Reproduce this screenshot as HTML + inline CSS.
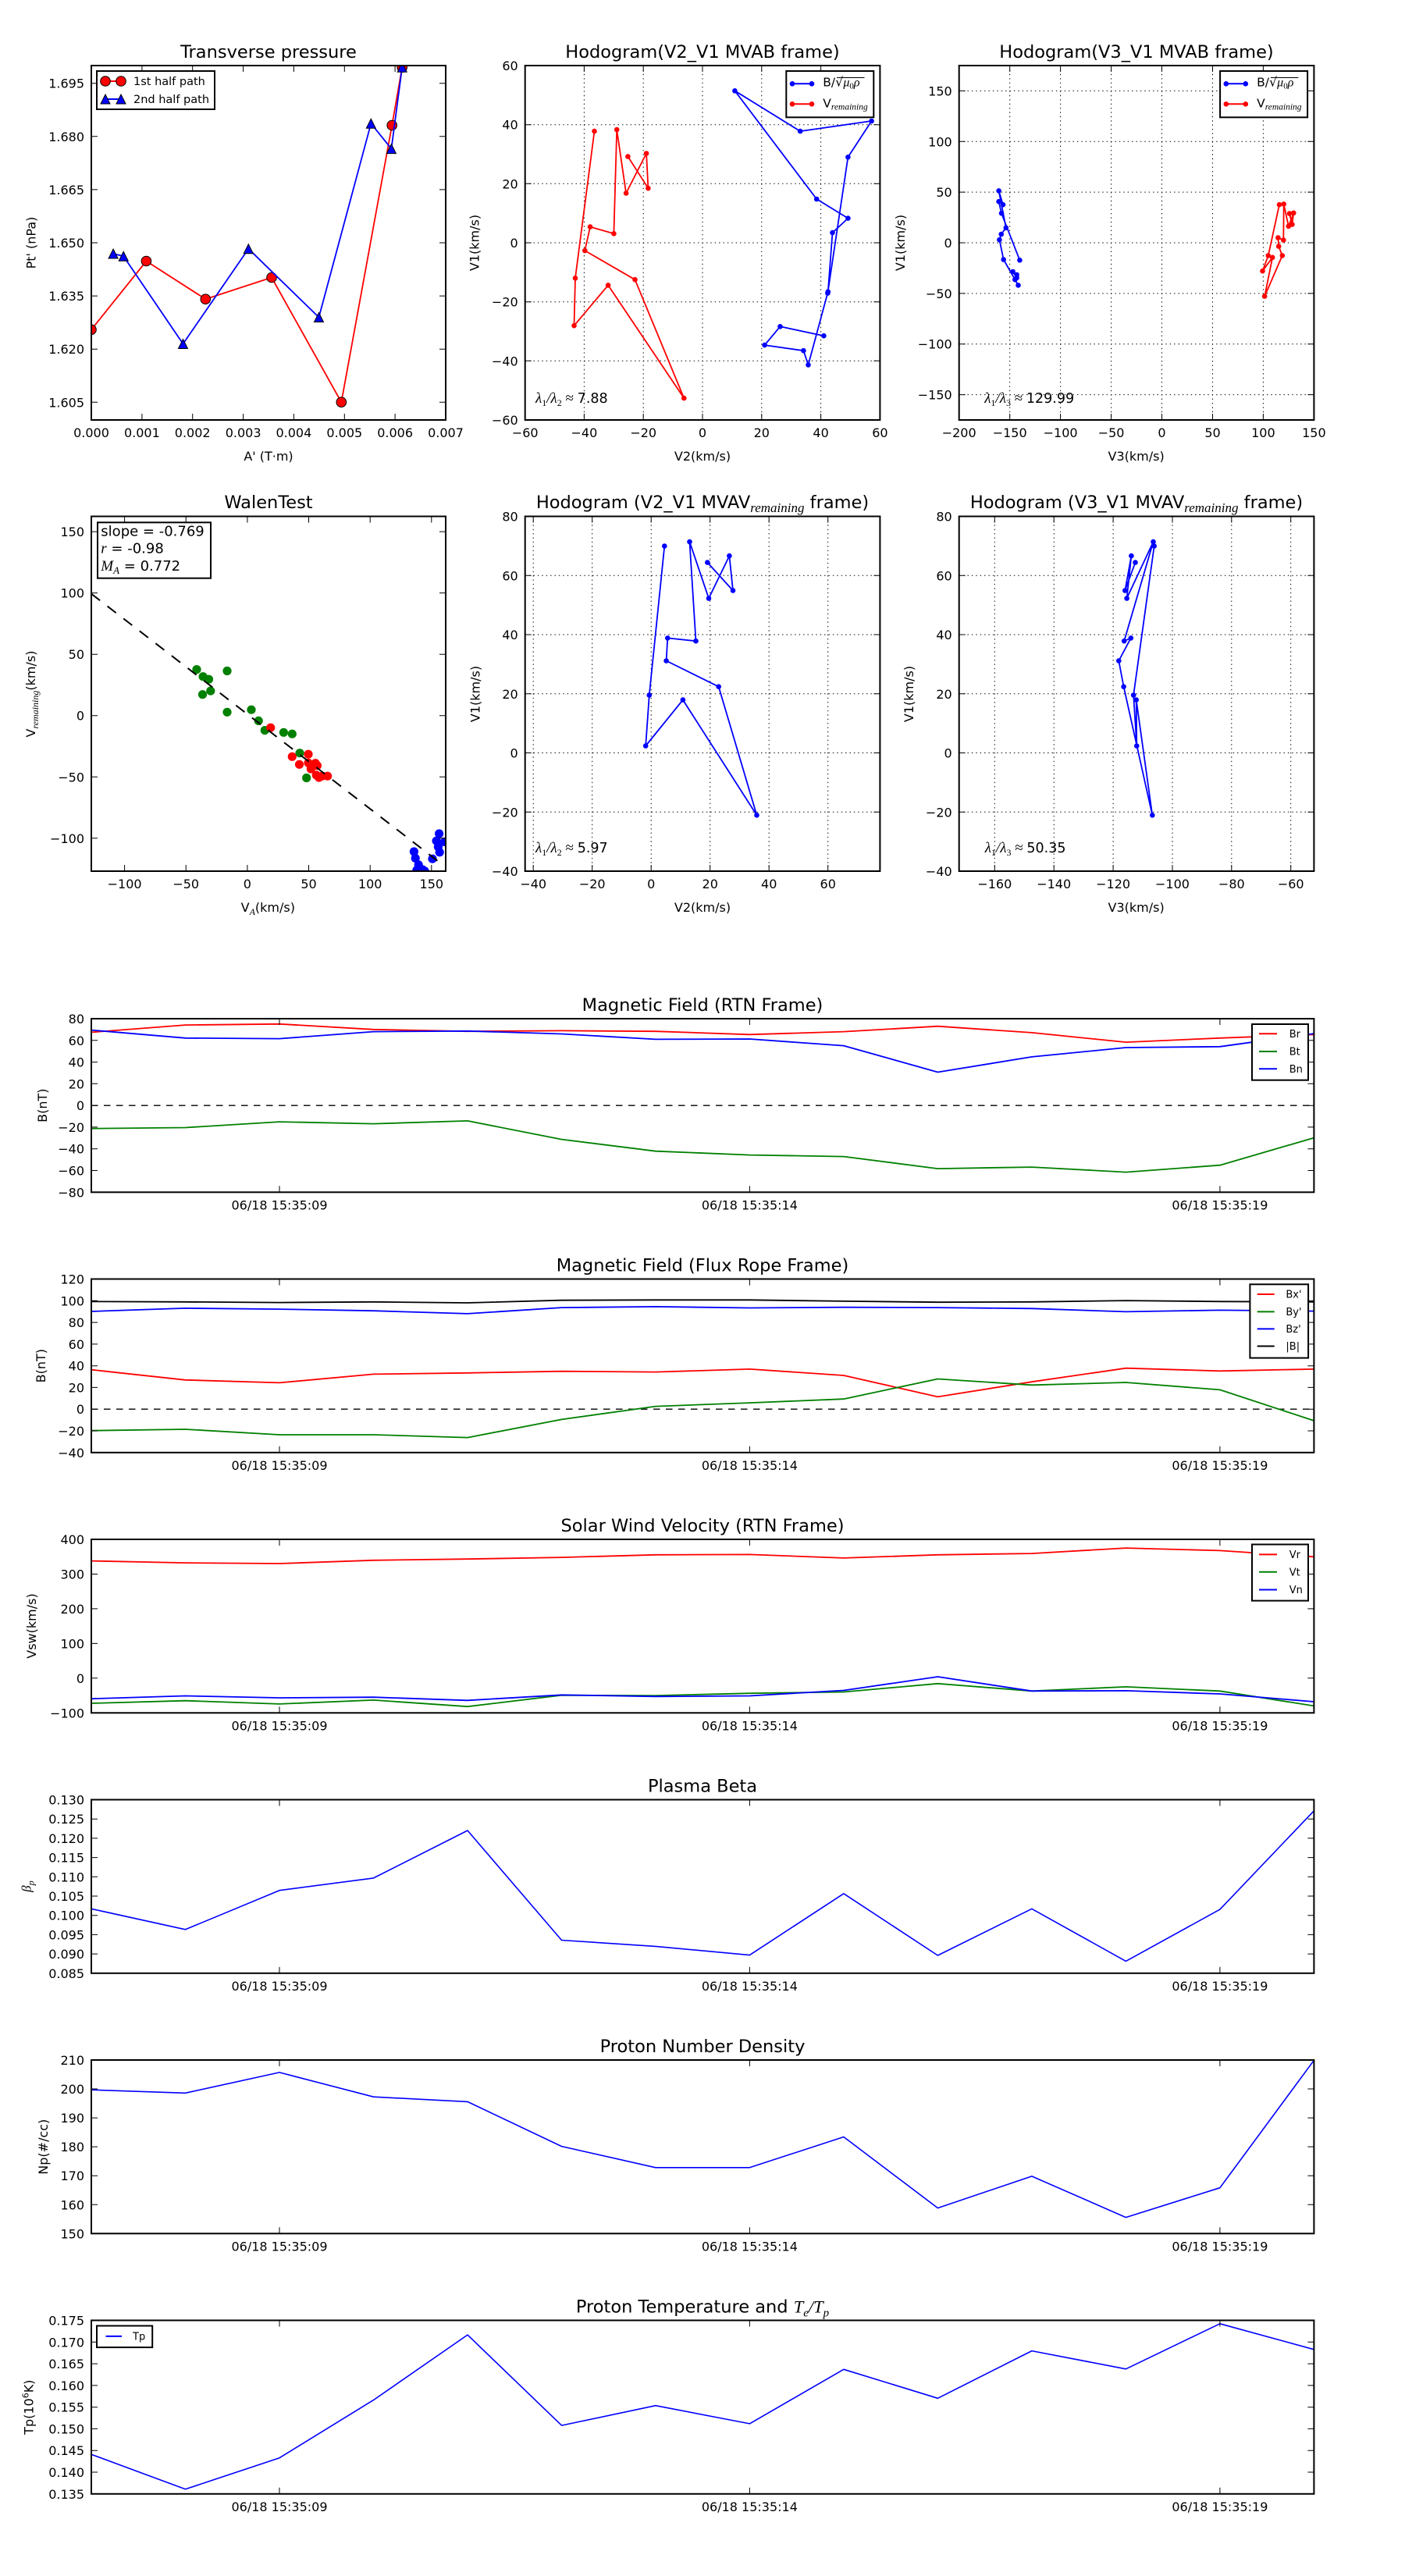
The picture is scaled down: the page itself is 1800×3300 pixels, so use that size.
<!DOCTYPE html>
<html><head><meta charset="utf-8"><style>
html,body{margin:0;padding:0;background:#fff}
svg{display:block}
text{font-family:"DejaVu Sans","Liberation Sans",sans-serif;fill:#000}
.tl{font-size:16px}
.ti{font-size:22.5px}
.lg{font-size:13px}
.m{font-family:"Liberation Serif","DejaVu Serif",serif;font-style:italic}
.sp{fill:none;stroke:#000;stroke-width:2}
.tk{fill:none;stroke:#000;stroke-width:1}
.gr{fill:none;stroke:#000;stroke-width:1;stroke-dasharray:1.4 4}
.ln{fill:none;stroke-width:1.8;stroke-linejoin:round}
.ln2{fill:none;stroke-width:1.6;stroke-linejoin:round}
</style></head><body>
<svg width="1800" height="3300" viewBox="0 0 1800 3300" xmlns="http://www.w3.org/2000/svg">
<defs>
<clipPath id="c1"><rect x="117" y="84" width="454" height="454"/></clipPath>
<clipPath id="c2"><rect x="672.7" y="84" width="454.7" height="454"/></clipPath>
<clipPath id="c3"><rect x="1228.7" y="84" width="454.7" height="454"/></clipPath>
<clipPath id="c4"><rect x="117" y="661.5" width="454" height="454.5"/></clipPath>
<clipPath id="c5"><rect x="672.7" y="661.5" width="454.7" height="454.5"/></clipPath>
<clipPath id="c6"><rect x="1228.7" y="661.5" width="454.7" height="454.5"/></clipPath>
<marker id="mr" markerUnits="userSpaceOnUse" markerWidth="10" markerHeight="10" refX="5" refY="5" overflow="visible"><circle cx="5" cy="5" r="3.3" fill="red"/></marker>
<marker id="mb" markerUnits="userSpaceOnUse" markerWidth="10" markerHeight="10" refX="5" refY="5" overflow="visible"><circle cx="5" cy="5" r="3.3" fill="blue"/></marker>
<marker id="bc" markerUnits="userSpaceOnUse" markerWidth="16" markerHeight="16" refX="8" refY="8" overflow="visible"><circle cx="8" cy="8" r="6.3" fill="red" stroke="#000" stroke-width="1"/></marker>
<marker id="bt" markerUnits="userSpaceOnUse" markerWidth="16" markerHeight="16" refX="8" refY="8" overflow="visible"><polygon points="8,2 2,14 14,14" fill="blue" stroke="#000" stroke-width="1"/></marker>
</defs>
<rect width="1800" height="3300" fill="#fff"/>

<!-- ============ Panel 1: Transverse pressure ============ -->
<text class="ti" x="344" y="74" text-anchor="middle">Transverse pressure</text>
<g clip-path="url(#c1)">
<polyline class="ln" stroke="red" stroke-width="2" points="117,422.3 187.4,334.5 263.3,383.2 348,355.5 437.3,515.2 502.2,160.5 515.2,86.2" marker-start="url(#bc)" marker-mid="url(#bc)" marker-end="url(#bc)"/>
<polyline class="ln" stroke="blue" stroke-width="2" points="145.1,325 158.2,328.2 234.5,440.5 318.3,318.7 408.5,406.5 475.3,158.2 501.4,190.6 515.2,86.2" marker-start="url(#bt)" marker-mid="url(#bt)" marker-end="url(#bt)"/>
</g>
<rect class="sp" x="117" y="84" width="454" height="454"/>
<path class="tk" d="M181.9 538v-8M246.7 538v-8M311.6 538v-8M376.4 538v-8M441.3 538v-8M506.1 538v-8M181.9 84v8M246.7 84v8M311.6 84v8M376.4 84v8M441.3 84v8M506.1 84v8M117 106.7h8M117 174.8h8M117 242.9h8M117 311h8M117 379.1h8M117 447.2h8M117 515.3h8M571 106.7h-8M571 174.8h-8M571 242.9h-8M571 311h-8M571 379.1h-8M571 447.2h-8M571 515.3h-8"/>
<g class="tl" text-anchor="middle">
<text x="117" y="560">0.000</text><text x="181.9" y="560">0.001</text><text x="246.7" y="560">0.002</text><text x="311.6" y="560">0.003</text><text x="376.4" y="560">0.004</text><text x="441.3" y="560">0.005</text><text x="506.1" y="560">0.006</text><text x="571" y="560">0.007</text>
</g>
<g class="tl" text-anchor="end">
<text x="108" y="112.7">1.695</text><text x="108" y="180.8">1.680</text><text x="108" y="248.9">1.665</text><text x="108" y="317">1.650</text><text x="108" y="385.1">1.635</text><text x="108" y="453.2">1.620</text><text x="108" y="521.3">1.605</text>
</g>
<text class="tl" x="344" y="590" text-anchor="middle">A' (T·m)</text>
<text class="tl" transform="translate(45.3,311) rotate(-90)" text-anchor="middle">Pt' (nPa)</text>
<rect x="124" y="91" width="151" height="49" fill="#fff" stroke="#000" stroke-width="2"/>
<polyline fill="none" stroke="red" stroke-width="2" points="135,104 155,104" marker-start="url(#bc)" marker-end="url(#bc)"/>
<polyline fill="none" stroke="blue" stroke-width="2" points="135,127 155,127" marker-start="url(#bt)" marker-end="url(#bt)"/>
<text x="171" y="109" font-size="14.5">1st half path</text>
<text x="171" y="132" font-size="14.5">2nd half path</text>

<!-- ============ Panel 2: Hodogram V2_V1 MVAB ============ -->
<text class="ti" x="900" y="74" text-anchor="middle">Hodogram(V2_V1 MVAB frame)</text>
<path class="gr" d="M748.4 84V538M824.2 84V538M900 84V538M975.8 84V538M1051.6 84V538M672.7 159.7H1127.4M672.7 235.3H1127.4M672.7 311H1127.4M672.7 386.7H1127.4M672.7 462.3H1127.4"/>
<g clip-path="url(#c2)">
<polyline class="ln" stroke="red" points="761.5,168.1 737,356.3 735.5,417.2 779.1,365.4 876.3,510.1 813.5,358.2 749.3,321.1 756.1,290.6 786.4,299.3 790.2,166.1 802.1,247.5 828.1,196.5 830.4,241.2 804.4,200.5" marker-start="url(#mr)" marker-mid="url(#mr)" marker-end="url(#mr)"/>
<polyline class="ln" stroke="blue" points="1055.4,430.2 999.5,418.3 979.6,442.1 1029.4,449.2 1035.5,467.4 1060.8,373.7 1066.5,298.1 1086.4,279.6 1046.2,255 941.4,116.3 1025.2,168.1 1116.6,155 1086.4,201.3 1060.4,375.6" marker-start="url(#mb)" marker-mid="url(#mb)" marker-end="url(#mb)"/>
</g>
<rect class="sp" x="672.7" y="84" width="454.7" height="454"/>
<path class="tk" d="M748.4 538v-8M824.2 538v-8M900 538v-8M975.8 538v-8M1051.6 538v-8M748.4 84v8M824.2 84v8M900 84v8M975.8 84v8M1051.6 84v8M672.7 159.7h8M672.7 235.3h8M672.7 311h8M672.7 386.7h8M672.7 462.3h8M1127.4 159.7h-8M1127.4 235.3h-8M1127.4 311h-8M1127.4 386.7h-8M1127.4 462.3h-8"/>
<g class="tl" text-anchor="middle">
<text x="672.7" y="560">−60</text><text x="748.4" y="560">−40</text><text x="824.2" y="560">−20</text><text x="900" y="560">0</text><text x="975.8" y="560">20</text><text x="1051.6" y="560">40</text><text x="1127.4" y="560">60</text>
</g>
<g class="tl" text-anchor="end">
<text x="663.7" y="90">60</text><text x="663.7" y="165.7">40</text><text x="663.7" y="241.3">20</text><text x="663.7" y="317">0</text><text x="663.7" y="392.7">−20</text><text x="663.7" y="468.3">−40</text><text x="663.7" y="544">−60</text>
</g>
<text class="tl" x="900" y="590" text-anchor="middle">V2(km/s)</text>
<text class="tl" transform="translate(613.5,311) rotate(-90)" text-anchor="middle">V1(km/s)</text>
<text x="686" y="516" font-size="17.5"><tspan class="m" font-size="19">λ</tspan><tspan font-family="Liberation Serif" font-size="12" dy="4">1</tspan><tspan class="m" font-size="19" dy="-4">/λ</tspan><tspan font-family="Liberation Serif" font-size="12" dy="4">2</tspan><tspan font-family="Liberation Serif" font-size="19" dy="-4"> ≈ </tspan><tspan>7.88</tspan></text>
<rect x="1007.3" y="91" width="112" height="59.3" fill="#fff" stroke="#000" stroke-width="2"/>
<polyline fill="none" stroke="blue" stroke-width="2" points="1015,107.3 1040,107.3" marker-start="url(#mb)" marker-end="url(#mb)"/>
<polyline fill="none" stroke="red" stroke-width="2" points="1015,133.3 1040,133.3" marker-start="url(#mr)" marker-end="url(#mr)"/>
<text x="1054.3" y="110.7" font-size="15.5">B/<tspan font-family="DejaVu Serif" font-size="16">√</tspan><tspan class="m" font-size="16">μ</tspan><tspan font-family="Liberation Serif" font-size="11" dy="3">0</tspan><tspan class="m" font-size="16" dy="-3">ρ</tspan></text>
<path d="M1072 99.5H1107.5" stroke="#000" stroke-width="1"/>
<text x="1054.3" y="137.3" font-size="15.5">V<tspan class="m" font-size="11.5" dy="3">remaining</tspan></text>

<!-- ============ Panel 3: Hodogram V3_V1 MVAB ============ -->
<text class="ti" x="1456" y="74" text-anchor="middle">Hodogram(V3_V1 MVAB frame)</text>
<path class="gr" d="M1293.7 84V538M1358.6 84V538M1423.6 84V538M1488.5 84V538M1553.5 84V538M1618.4 84V538M1228.7 116.4H1683.4M1228.7 181.3H1683.4M1228.7 246.1H1683.4M1228.7 311H1683.4M1228.7 375.9H1683.4M1228.7 440.7H1683.4M1228.7 505.6H1683.4"/>
<g clip-path="url(#c3)">
<polyline class="ln" stroke="blue" points="1302.6,351.9 1297.6,348 1302.6,355.9 1300.3,358.2 1304.5,365.4 1285.7,332.5 1280.4,307.2 1282.7,300.1 1288.8,291.8 1279.6,244.4 1285,262.2 1279.6,258.2 1283,273.2 1306.4,333.3" marker-start="url(#mb)" marker-mid="url(#mb)" marker-end="url(#mb)"/>
<polyline class="ln" stroke="red" points="1639,262.2 1624.8,327.4 1617.5,347.2 1630.2,329.8 1620.2,379.6 1642.8,327.4 1638.2,315.5 1637.4,304.5 1644.3,307.6 1644.7,261.4 1650.8,289.8 1657.3,272.8 1655.4,287.5 1652,273.6" marker-start="url(#mr)" marker-mid="url(#mr)" marker-end="url(#mr)"/>
</g>
<rect class="sp" x="1228.7" y="84" width="454.7" height="454"/>
<path class="tk" d="M1293.7 538v-8M1358.6 538v-8M1423.6 538v-8M1488.5 538v-8M1553.5 538v-8M1618.4 538v-8M1293.7 84v8M1358.6 84v8M1423.6 84v8M1488.5 84v8M1553.5 84v8M1618.4 84v8M1228.7 116.4h8M1228.7 181.3h8M1228.7 246.1h8M1228.7 311h8M1228.7 375.9h8M1228.7 440.7h8M1228.7 505.6h8M1683.4 116.4h-8M1683.4 181.3h-8M1683.4 246.1h-8M1683.4 311h-8M1683.4 375.9h-8M1683.4 440.7h-8M1683.4 505.6h-8"/>
<g class="tl" text-anchor="middle">
<text x="1228.7" y="560">−200</text><text x="1293.7" y="560">−150</text><text x="1358.6" y="560">−100</text><text x="1423.6" y="560">−50</text><text x="1488.5" y="560">0</text><text x="1553.5" y="560">50</text><text x="1618.4" y="560">100</text><text x="1683.4" y="560">150</text>
</g>
<g class="tl" text-anchor="end">
<text x="1219.7" y="122.4">150</text><text x="1219.7" y="187.3">100</text><text x="1219.7" y="252.1">50</text><text x="1219.7" y="317">0</text><text x="1219.7" y="381.9">−50</text><text x="1219.7" y="446.7">−100</text><text x="1219.7" y="511.6">−150</text>
</g>
<text class="tl" x="1455.6" y="590" text-anchor="middle">V3(km/s)</text>
<text class="tl" transform="translate(1159,311) rotate(-90)" text-anchor="middle">V1(km/s)</text>
<text x="1261.2" y="516" font-size="17.5"><tspan class="m" font-size="19">λ</tspan><tspan font-family="Liberation Serif" font-size="12" dy="4">1</tspan><tspan class="m" font-size="19" dy="-4">/λ</tspan><tspan font-family="Liberation Serif" font-size="12" dy="4">3</tspan><tspan font-family="Liberation Serif" font-size="19" dy="-4"> ≈ </tspan><tspan>129.99</tspan></text>
<rect x="1563.1" y="91" width="112" height="59.3" fill="#fff" stroke="#000" stroke-width="2"/>
<polyline fill="none" stroke="blue" stroke-width="2" points="1570.8,107.3 1595.8,107.3" marker-start="url(#mb)" marker-end="url(#mb)"/>
<polyline fill="none" stroke="red" stroke-width="2" points="1570.8,133.3 1595.8,133.3" marker-start="url(#mr)" marker-end="url(#mr)"/>
<text x="1610.1" y="110.7" font-size="15.5">B/<tspan font-family="DejaVu Serif" font-size="16">√</tspan><tspan class="m" font-size="16">μ</tspan><tspan font-family="Liberation Serif" font-size="11" dy="3">0</tspan><tspan class="m" font-size="16" dy="-3">ρ</tspan></text>
<path d="M1627.8 99.5H1663.3" stroke="#000" stroke-width="1"/>
<text x="1610.1" y="137.3" font-size="15.5">V<tspan class="m" font-size="11.5" dy="3">remaining</tspan></text>

<!-- ============ Row 2 Panel 1: WalenTest ============ -->
<text class="ti" x="344" y="651" text-anchor="middle">WalenTest</text>
<g clip-path="url(#c4)">
<g fill="green">
<circle cx="252" cy="857.6" r="5.6"/><circle cx="260.1" cy="866.7" r="5.6"/><circle cx="267.5" cy="870.2" r="5.6"/><circle cx="259.5" cy="889.7" r="5.6"/><circle cx="269.8" cy="885.1" r="5.6"/><circle cx="291" cy="859.5" r="5.6"/><circle cx="291" cy="912.3" r="5.6"/><circle cx="322" cy="909.2" r="5.6"/><circle cx="331.2" cy="923.4" r="5.6"/><circle cx="339.3" cy="935.6" r="5.6"/><circle cx="363.4" cy="938.3" r="5.6"/><circle cx="374.3" cy="940.2" r="5.6"/><circle cx="384" cy="964.7" r="5.6"/><circle cx="392.7" cy="996.5" r="5.6"/>
</g>
<g fill="red">
<circle cx="346.7" cy="932.2" r="5.6"/><circle cx="374.3" cy="969.3" r="5.6"/><circle cx="383.5" cy="979.3" r="5.6"/><circle cx="395" cy="966.2" r="5.6"/><circle cx="395" cy="977.3" r="5.6"/><circle cx="398.4" cy="985" r="5.6"/><circle cx="404.1" cy="977.7" r="5.6"/><circle cx="406.4" cy="980.8" r="5.6"/><circle cx="405.3" cy="993" r="5.6"/><circle cx="408.7" cy="996.1" r="5.6"/><circle cx="412.7" cy="994.2" r="5.6"/><circle cx="419.6" cy="994.2" r="5.6"/>
</g>
<g fill="blue">
<circle cx="530.4" cy="1091" r="5.6"/><circle cx="532.2" cy="1099.4" r="5.6"/><circle cx="536.2" cy="1107.8" r="5.6"/><circle cx="541.3" cy="1114" r="5.6"/><circle cx="554" cy="1100.2" r="5.6"/><circle cx="559.1" cy="1077.2" r="5.6"/><circle cx="562.6" cy="1068" r="5.6"/><circle cx="561.4" cy="1084.9" r="5.6"/><circle cx="563.2" cy="1091.8" r="5.6"/><circle cx="569.5" cy="1078.4" r="5.6"/><circle cx="533.9" cy="1114.7" r="5.6"/><circle cx="544.2" cy="1115.9" r="5.6"/>
</g>
<line x1="117" y1="760.7" x2="562.6" y2="1104.4" stroke="#000" stroke-width="2" stroke-dasharray="14 12"/>
</g>
<rect class="sp" x="117" y="661.5" width="454" height="454.5"/>
<path class="tk" d="M159.6 1116v-8M238.2 1116v-8M316.9 1116v-8M395.5 1116v-8M474.2 1116v-8M552.8 1116v-8M159.6 661.5v8M238.2 661.5v8M316.9 661.5v8M395.5 661.5v8M474.2 661.5v8M552.8 661.5v8M117 681.1h8M117 759.6h8M117 838.2h8M117 916.7h8M117 995.3h8M117 1073.8h8M571 681.1h-8M571 759.6h-8M571 838.2h-8M571 916.7h-8M571 995.3h-8M571 1073.8h-8"/>
<g class="tl" text-anchor="middle">
<text x="159.6" y="1138">−100</text><text x="238.2" y="1138">−50</text><text x="316.9" y="1138">0</text><text x="395.5" y="1138">50</text><text x="474.2" y="1138">100</text><text x="552.8" y="1138">150</text>
</g>
<g class="tl" text-anchor="end">
<text x="108" y="687.1">150</text><text x="108" y="765.6">100</text><text x="108" y="844.2">50</text><text x="108" y="922.7">0</text><text x="108" y="1001.3">−50</text><text x="108" y="1079.8">−100</text>
</g>
<rect x="125" y="669.3" width="145" height="71.4" fill="#fff" stroke="#000" stroke-width="2"/>
<text x="129.3" y="686.7" font-size="18">slope = -0.769</text>
<text x="129.3" y="708.3" font-size="18"><tspan class="m" font-size="19">r</tspan> = -0.98</text>
<text x="129.3" y="731" font-size="18"><tspan class="m" font-size="19">M</tspan><tspan class="m" font-size="13" dy="4">A</tspan><tspan dy="-4"> = 0.772</tspan></text>
<text class="tl" x="343.3" y="1168" text-anchor="middle">V<tspan class="m" font-size="12" dy="4">A</tspan><tspan dy="-4">(km/s)</tspan></text>
<text class="tl" transform="translate(45,889) rotate(-90)" text-anchor="middle">V<tspan class="m" font-size="12" dy="4">remaining</tspan><tspan dy="-4">(km/s)</tspan></text>

<!-- ============ Row 2 Panel 2 ============ -->
<text class="ti" x="900" y="651" text-anchor="middle">Hodogram (V2_V1 MVAV<tspan class="m" font-size="17" dy="5">remaining</tspan><tspan dy="-5"> frame)</tspan></text>
<path class="gr" d="M683.2 661.5V1116M758.7 661.5V1116M834.2 661.5V1116M909.7 661.5V1116M985.2 661.5V1116M1060.7 661.5V1116M672.7 737.3H1127.4M672.7 813H1127.4M672.7 888.75H1127.4M672.7 964.5H1127.4M672.7 1040.3H1127.4"/>
<g clip-path="url(#c5)">
<polyline class="ln" stroke="blue" points="851.3,699.5 831.8,890.5 827.2,955.5 874.9,896.6 969.5,1044.3 920.7,879.7 853.6,846.5 855.3,817.4 891.5,821.2 883.5,694.1 908,766.5 934.4,712.1 939,756.5 906.3,720.5" marker-start="url(#mb)" marker-mid="url(#mb)" marker-end="url(#mb)"/>
</g>
<rect class="sp" x="672.7" y="661.5" width="454.7" height="454.5"/>
<path class="tk" d="M683.2 1116v-8M758.7 1116v-8M834.2 1116v-8M909.7 1116v-8M985.2 1116v-8M1060.7 1116v-8M683.2 661.5v8M758.7 661.5v8M834.2 661.5v8M909.7 661.5v8M985.2 661.5v8M1060.7 661.5v8M672.7 737.3h8M672.7 813h8M672.7 888.75h8M672.7 964.5h8M672.7 1040.3h8M1127.4 737.3h-8M1127.4 813h-8M1127.4 888.75h-8M1127.4 964.5h-8M1127.4 1040.3h-8"/>
<g class="tl" text-anchor="middle">
<text x="683.2" y="1138">−40</text><text x="758.7" y="1138">−20</text><text x="834.2" y="1138">0</text><text x="909.7" y="1138">20</text><text x="985.2" y="1138">40</text><text x="1060.7" y="1138">60</text>
</g>
<g class="tl" text-anchor="end">
<text x="663.7" y="667.5">80</text><text x="663.7" y="743.3">60</text><text x="663.7" y="819">40</text><text x="663.7" y="894.75">20</text><text x="663.7" y="970.5">0</text><text x="663.7" y="1046.3">−20</text><text x="663.7" y="1122">−40</text>
</g>
<text class="tl" x="900" y="1168" text-anchor="middle">V2(km/s)</text>
<text class="tl" transform="translate(614.3,889) rotate(-90)" text-anchor="middle">V1(km/s)</text>
<text x="686" y="1092" font-size="17.5"><tspan class="m" font-size="19">λ</tspan><tspan font-family="Liberation Serif" font-size="12" dy="4">1</tspan><tspan class="m" font-size="19" dy="-4">/λ</tspan><tspan font-family="Liberation Serif" font-size="12" dy="4">2</tspan><tspan font-family="Liberation Serif" font-size="19" dy="-4"> ≈ </tspan><tspan>5.97</tspan></text>

<!-- ============ Row 2 Panel 3 ============ -->
<text class="ti" x="1456" y="651" text-anchor="middle">Hodogram (V3_V1 MVAV<tspan class="m" font-size="17" dy="5">remaining</tspan><tspan dy="-5"> frame)</tspan></text>
<path class="gr" d="M1274.3 661.5V1116M1350.2 661.5V1116M1426.1 661.5V1116M1502 661.5V1116M1577.8 661.5V1116M1653.7 661.5V1116M1228.7 737.3H1683.4M1228.7 813H1683.4M1228.7 888.75H1683.4M1228.7 964.5H1683.4M1228.7 1040.3H1683.4"/>
<g clip-path="url(#c6)">
<polyline class="ln" stroke="blue" points="1478.7,699.5 1452.2,890.5 1456.3,955.5 1455.7,896.6 1476.3,1044.3 1439.6,879.7 1433.3,846.5 1448.8,817.4 1440.2,821.2 1477.5,694.1 1443.6,766.5 1449.4,712.1 1441.3,756.5 1454.5,720.5" marker-start="url(#mb)" marker-mid="url(#mb)" marker-end="url(#mb)"/>
</g>
<rect class="sp" x="1228.7" y="661.5" width="454.7" height="454.5"/>
<path class="tk" d="M1274.3 1116v-8M1350.2 1116v-8M1426.1 1116v-8M1502 1116v-8M1577.8 1116v-8M1653.7 1116v-8M1274.3 661.5v8M1350.2 661.5v8M1426.1 661.5v8M1502 661.5v8M1577.8 661.5v8M1653.7 661.5v8M1228.7 737.3h8M1228.7 813h8M1228.7 888.75h8M1228.7 964.5h8M1228.7 1040.3h8M1683.4 737.3h-8M1683.4 813h-8M1683.4 888.75h-8M1683.4 964.5h-8M1683.4 1040.3h-8"/>
<g class="tl" text-anchor="middle">
<text x="1274.3" y="1138">−160</text><text x="1350.2" y="1138">−140</text><text x="1426.1" y="1138">−120</text><text x="1502" y="1138">−100</text><text x="1577.8" y="1138">−80</text><text x="1653.7" y="1138">−60</text>
</g>
<g class="tl" text-anchor="end">
<text x="1219.7" y="667.5">80</text><text x="1219.7" y="743.3">60</text><text x="1219.7" y="819">40</text><text x="1219.7" y="894.75">20</text><text x="1219.7" y="970.5">0</text><text x="1219.7" y="1046.3">−20</text><text x="1219.7" y="1122">−40</text>
</g>
<text class="tl" x="1455.6" y="1168" text-anchor="middle">V3(km/s)</text>
<text class="tl" transform="translate(1170,889) rotate(-90)" text-anchor="middle">V1(km/s)</text>
<text x="1261.7" y="1092" font-size="17.5"><tspan class="m" font-size="19">λ</tspan><tspan font-family="Liberation Serif" font-size="12" dy="4">1</tspan><tspan class="m" font-size="19" dy="-4">/λ</tspan><tspan font-family="Liberation Serif" font-size="12" dy="4">3</tspan><tspan font-family="Liberation Serif" font-size="19" dy="-4"> ≈ </tspan><tspan>50.35</tspan></text>

<!-- ============ TS 1: Magnetic Field (RTN) ============ -->
<text class="ti" x="900" y="1295" text-anchor="middle">Magnetic Field (RTN Frame)</text>
<path d="M117 1416.2H1683.4" stroke="#000" stroke-width="1.3" stroke-dasharray="8.5 7.5"/>
<polyline class="ln" stroke="red" points="117,1322.4 237.5,1313.1 358,1311.8 478.5,1318.8 599,1321.2 719.5,1320.4 839.9,1321.2 960.4,1325.3 1080.9,1321.6 1201.4,1314.7 1321.9,1322.9 1442.4,1335.1 1562.9,1329.8 1683.4,1325.3"/>
<polyline class="ln" stroke="green" points="117,1445.7 237.5,1444.5 358,1437.1 478.5,1439.6 599,1435.9 719.5,1459.6 839.9,1474.7 960.4,1479.6 1080.9,1481.6 1201.4,1497.1 1321.9,1495.1 1442.4,1501.6 1562.9,1492.7 1683.4,1457.6"/>
<polyline class="ln" stroke="blue" points="117,1319.6 237.5,1329.8 358,1330.6 478.5,1321.6 599,1320.8 719.5,1324.5 839.9,1331.4 960.4,1331 1080.9,1339.6 1201.4,1373.5 1321.9,1353.9 1442.4,1342 1562.9,1340.8 1683.4,1324.1"/>
<rect class="sp" x="117" y="1305" width="1566.4" height="222.3"/>
<path class="tk" d="M358 1527.3v-8M960.4 1527.3v-8M1562.9 1527.3v-8M358 1305v8M960.4 1305v8M1562.9 1305v8M117 1332.8h8M117 1360.6h8M117 1388.3h8M117 1416.2h8M117 1443.9h8M117 1471.7h8M117 1499.5h8M1683.4 1332.8h-8M1683.4 1360.6h-8M1683.4 1388.3h-8M1683.4 1416.2h-8M1683.4 1443.9h-8M1683.4 1471.7h-8M1683.4 1499.5h-8"/>
<g class="tl" text-anchor="end">
<text x="108" y="1311">80</text><text x="108" y="1338.8">60</text><text x="108" y="1366.6">40</text><text x="108" y="1394.3">20</text><text x="108" y="1422.2">0</text><text x="108" y="1449.9">−20</text><text x="108" y="1477.7">−40</text><text x="108" y="1505.5">−60</text><text x="108" y="1533.3">−80</text>
</g>
<g class="tl" text-anchor="middle">
<text x="358" y="1549.5">06/18 15:35:09</text><text x="960.4" y="1549.5">06/18 15:35:14</text><text x="1562.9" y="1549.5">06/18 15:35:19</text>
</g>
<text class="tl" transform="translate(59.8,1416.2) rotate(-90)" text-anchor="middle">B(nT)</text>
<rect x="1604" y="1312" width="72" height="71.7" fill="#fff" stroke="#000" stroke-width="2"/>
<path d="M1613 1324.3h23" stroke="red" stroke-width="2"/><path d="M1613 1347h23" stroke="green" stroke-width="2"/><path d="M1613 1369.3h23" stroke="blue" stroke-width="2"/>
<text class="lg" x="1651.7" y="1329">Br</text><text class="lg" x="1651.7" y="1351.7">Bt</text><text class="lg" x="1651.7" y="1374">Bn</text>

<!-- ============ TS 2: Magnetic Field (Flux Rope) ============ -->
<text class="ti" x="900" y="1628.5" text-anchor="middle">Magnetic Field (Flux Rope Frame)</text>
<path d="M117 1805.2H1683.4" stroke="#000" stroke-width="1.3" stroke-dasharray="8.5 7.5"/>
<polyline class="ln" stroke="red" points="117,1754.7 237.5,1767.8 358,1771.4 478.5,1760.4 599,1758.8 719.5,1756.7 839.9,1757.6 960.4,1753.9 1080.9,1762 1201.4,1789.4 1321.9,1770.2 1442.4,1752.7 1562.9,1756.3 1683.4,1753.9"/>
<polyline class="ln" stroke="green" points="117,1832.7 237.5,1831 358,1838 478.5,1838 599,1841.6 719.5,1818.4 839.9,1801.6 960.4,1797.1 1080.9,1792.2 1201.4,1766.5 1321.9,1774.3 1442.4,1771 1562.9,1780.4 1683.4,1820"/>
<polyline class="ln" stroke="blue" points="117,1680 237.5,1675.9 358,1677.1 478.5,1679.2 599,1682.9 719.5,1675.1 839.9,1673.9 960.4,1675.5 1080.9,1674.7 1201.4,1675.1 1321.9,1676.3 1442.4,1680.4 1562.9,1678.4 1683.4,1679.6"/>
<polyline class="ln" stroke="#000" points="117,1667.3 237.5,1667.8 358,1668.6 478.5,1667.8 599,1669 719.5,1665.7 839.9,1665.3 960.4,1665.3 1080.9,1666.9 1201.4,1668.2 1321.9,1667.8 1442.4,1666.1 1562.9,1667.3 1683.4,1667.8"/>
<rect class="sp" x="117" y="1638.5" width="1566.4" height="222.3"/>
<path class="tk" d="M358 1860.8v-8M960.4 1860.8v-8M1562.9 1860.8v-8M358 1638.5v8M960.4 1638.5v8M1562.9 1638.5v8M117 1666.3h8M117 1694.1h8M117 1721.9h8M117 1749.7h8M117 1777.4h8M117 1805.2h8M117 1833h8M1683.4 1666.3h-8M1683.4 1694.1h-8M1683.4 1721.9h-8M1683.4 1749.7h-8M1683.4 1777.4h-8M1683.4 1805.2h-8M1683.4 1833h-8"/>
<g class="tl" text-anchor="end">
<text x="108" y="1644.5">120</text><text x="108" y="1672.3">100</text><text x="108" y="1700.1">80</text><text x="108" y="1727.9">60</text><text x="108" y="1755.7">40</text><text x="108" y="1783.4">20</text><text x="108" y="1811.2">0</text><text x="108" y="1839">−20</text><text x="108" y="1866.8">−40</text>
</g>
<g class="tl" text-anchor="middle">
<text x="358" y="1883">06/18 15:35:09</text><text x="960.4" y="1883">06/18 15:35:14</text><text x="1562.9" y="1883">06/18 15:35:19</text>
</g>
<text class="tl" transform="translate(58,1749.7) rotate(-90)" text-anchor="middle">B(nT)</text>
<rect x="1601.4" y="1645.3" width="74.7" height="94.3" fill="#fff" stroke="#000" stroke-width="2"/>
<path d="M1610.7 1658h22" stroke="red" stroke-width="2"/><path d="M1610.7 1680.4h22" stroke="green" stroke-width="2"/><path d="M1610.7 1702.4h22" stroke="blue" stroke-width="2"/><path d="M1610.7 1724.5h22" stroke="#000" stroke-width="2"/>
<text class="lg" x="1647.4" y="1662.7">Bx'</text><text class="lg" x="1647.4" y="1685.1">By'</text><text class="lg" x="1647.4" y="1707.1">Bz'</text><text class="lg" x="1647.4" y="1729.2">|B|</text>

<!-- ============ TS 3: Solar Wind Velocity ============ -->
<text class="ti" x="900" y="1962" text-anchor="middle">Solar Wind Velocity (RTN Frame)</text>
<polyline class="ln" stroke="red" points="117,1999.6 237.5,2002.1 358,2003 478.5,1998.8 599,1997.2 719.5,1995.1 839.9,1991.8 960.4,1991.4 1080.9,1995.9 1201.4,1991.8 1321.9,1990.1 1442.4,1983.1 1562.9,1986.4 1683.4,1994.3"/>
<polyline class="ln" stroke="green" points="117,2182 237.5,2178.7 358,2182.9 478.5,2177.9 599,2186.2 719.5,2171.7 839.9,2172.1 960.4,2169.2 1080.9,2167.5 1201.4,2156.8 1321.9,2166.3 1442.4,2160.9 1562.9,2166.3 1683.4,2185.4"/>
<polyline class="ln" stroke="blue" points="117,2176.2 237.5,2172.5 358,2175 478.5,2174.2 599,2178.3 719.5,2171.3 839.9,2173.3 960.4,2172.5 1080.9,2165.5 1201.4,2148 1321.9,2166.3 1442.4,2165.9 1562.9,2170 1683.4,2180"/>
<rect class="sp" x="117" y="1972" width="1566.4" height="222.3"/>
<path class="tk" d="M358 2194.3v-8M960.4 2194.3v-8M1562.9 2194.3v-8M358 1972v8M960.4 1972v8M1562.9 1972v8M117 2016.5h8M117 2060.9h8M117 2105.4h8M117 2149.8h8M1683.4 2016.5h-8M1683.4 2060.9h-8M1683.4 2105.4h-8M1683.4 2149.8h-8"/>
<g class="tl" text-anchor="end">
<text x="108" y="1978">400</text><text x="108" y="2022.5">300</text><text x="108" y="2066.9">200</text><text x="108" y="2111.4">100</text><text x="108" y="2155.8">0</text><text x="108" y="2200.3">−100</text>
</g>
<g class="tl" text-anchor="middle">
<text x="358" y="2216.5">06/18 15:35:09</text><text x="960.4" y="2216.5">06/18 15:35:14</text><text x="1562.9" y="2216.5">06/18 15:35:19</text>
</g>
<text class="tl" transform="translate(46,2083) rotate(-90)" text-anchor="middle">Vsw(km/s)</text>
<rect x="1604" y="1978.5" width="72" height="72.1" fill="#fff" stroke="#000" stroke-width="2"/>
<path d="M1613 1991.4h23" stroke="red" stroke-width="2"/><path d="M1613 2013.7h23" stroke="green" stroke-width="2"/><path d="M1613 2036.5h23" stroke="blue" stroke-width="2"/>
<text class="lg" x="1651.7" y="1996.1">Vr</text><text class="lg" x="1651.7" y="2018.4">Vt</text><text class="lg" x="1651.7" y="2041.2">Vn</text>

<!-- ============ TS 4: Plasma Beta ============ -->
<text class="ti" x="900" y="2295.5" text-anchor="middle">Plasma Beta</text>
<polyline class="ln2" stroke="blue" points="117,2445.3 237.5,2471.8 358,2421.7 478.5,2405.9 599,2345 719.5,2485.5 839.9,2493.4 960.4,2504.6 1080.9,2425.8 1201.4,2505 1321.9,2445.3 1442.4,2512.4 1562.9,2446.1 1683.4,2319.7"/>
<rect class="sp" x="117" y="2305.5" width="1566.4" height="222.3"/>
<path class="tk" d="M358 2527.8v-8M960.4 2527.8v-8M1562.9 2527.8v-8M358 2305.5v8M960.4 2305.5v8M1562.9 2305.5v8M117 2330.2h8M117 2354.9h8M117 2379.6h8M117 2404.3h8M117 2429h8M117 2453.7h8M117 2478.4h8M117 2503.1h8M1683.4 2330.2h-8M1683.4 2354.9h-8M1683.4 2379.6h-8M1683.4 2404.3h-8M1683.4 2429h-8M1683.4 2453.7h-8M1683.4 2478.4h-8M1683.4 2503.1h-8"/>
<g class="tl" text-anchor="end">
<text x="108" y="2311.5">0.130</text><text x="108" y="2336.2">0.125</text><text x="108" y="2360.9">0.120</text><text x="108" y="2385.6">0.115</text><text x="108" y="2410.3">0.110</text><text x="108" y="2435">0.105</text><text x="108" y="2459.7">0.100</text><text x="108" y="2484.4">0.095</text><text x="108" y="2509.1">0.090</text><text x="108" y="2533.8">0.085</text>
</g>
<g class="tl" text-anchor="middle">
<text x="358" y="2550">06/18 15:35:09</text><text x="960.4" y="2550">06/18 15:35:14</text><text x="1562.9" y="2550">06/18 15:35:19</text>
</g>
<text transform="translate(39.5,2416.6) rotate(-90)" text-anchor="middle"><tspan class="m" font-size="17">β</tspan><tspan class="m" font-size="12" dy="4">p</tspan></text>

<!-- ============ TS 5: Proton Number Density ============ -->
<text class="ti" x="900" y="2629" text-anchor="middle">Proton Number Density</text>
<polyline class="ln2" stroke="blue" points="117,2677.2 237.5,2681.3 358,2654.9 478.5,2686.2 599,2692.4 719.5,2749.6 839.9,2776.8 960.4,2776.8 1080.9,2737.5 1201.4,2828.6 1321.9,2787.9 1442.4,2840.6 1562.9,2802.7 1683.4,2639.3"/>
<rect class="sp" x="117" y="2639" width="1566.4" height="222.3"/>
<path class="tk" d="M358 2861.3v-8M960.4 2861.3v-8M1562.9 2861.3v-8M358 2639v8M960.4 2639v8M1562.9 2639v8M117 2676.05h8M117 2713.1h8M117 2750.15h8M117 2787.2h8M117 2824.25h8M1683.4 2676.05h-8M1683.4 2713.1h-8M1683.4 2750.15h-8M1683.4 2787.2h-8M1683.4 2824.25h-8"/>
<g class="tl" text-anchor="end">
<text x="108" y="2645">210</text><text x="108" y="2682.05">200</text><text x="108" y="2719.1">190</text><text x="108" y="2756.15">180</text><text x="108" y="2793.2">170</text><text x="108" y="2830.25">160</text><text x="108" y="2867.3">150</text>
</g>
<g class="tl" text-anchor="middle">
<text x="358" y="2883.5">06/18 15:35:09</text><text x="960.4" y="2883.5">06/18 15:35:14</text><text x="1562.9" y="2883.5">06/18 15:35:19</text>
</g>
<text class="tl" transform="translate(60.8,2750.2) rotate(-90)" text-anchor="middle">Np(#/cc)</text>

<!-- ============ TS 6: Proton Temperature ============ -->
<text class="ti" x="900" y="2962.5" text-anchor="middle">Proton Temperature and <tspan class="m">T</tspan><tspan class="m" font-size="15" dy="5">e</tspan><tspan class="m" dy="-5">/T</tspan><tspan class="m" font-size="15" dy="5">p</tspan></text>
<polyline class="ln2" stroke="blue" points="117,3144.2 237.5,3188.8 358,3148.7 478.5,3074.6 599,2991.1 719.5,3107.1 839.9,3081.7 960.4,3104.9 1080.9,3035.3 1201.4,3072.3 1321.9,3011.6 1442.4,3034.8 1562.9,2976.8 1683.4,3009.8"/>
<rect class="sp" x="117" y="2972.5" width="1566.4" height="222.3"/>
<path class="tk" d="M358 3194.8v-8M960.4 3194.8v-8M1562.9 3194.8v-8M358 2972.5v8M960.4 2972.5v8M1562.9 2972.5v8M117 3000.3h8M117 3028.1h8M117 3055.9h8M117 3083.7h8M117 3111.4h8M117 3139.2h8M117 3167h8M1683.4 3000.3h-8M1683.4 3028.1h-8M1683.4 3055.9h-8M1683.4 3083.7h-8M1683.4 3111.4h-8M1683.4 3139.2h-8M1683.4 3167h-8"/>
<g class="tl" text-anchor="end">
<text x="108" y="2978.5">0.175</text><text x="108" y="3006.3">0.170</text><text x="108" y="3034.1">0.165</text><text x="108" y="3061.9">0.160</text><text x="108" y="3089.7">0.155</text><text x="108" y="3117.4">0.150</text><text x="108" y="3145.2">0.145</text><text x="108" y="3173">0.140</text><text x="108" y="3200.8">0.135</text>
</g>
<g class="tl" text-anchor="middle">
<text x="358" y="3217">06/18 15:35:09</text><text x="960.4" y="3217">06/18 15:35:14</text><text x="1562.9" y="3217">06/18 15:35:19</text>
</g>
<text class="tl" transform="translate(42.5,3083.7) rotate(-90)" text-anchor="middle">Tp(10<tspan font-size="11" dy="-6">6</tspan><tspan dy="6">K)</tspan></text>
<rect x="124" y="2979.5" width="71.2" height="27.6" fill="#fff" stroke="#000" stroke-width="2"/>
<path d="M135.5 2992.9h20.5" stroke="blue" stroke-width="2"/>
<text class="lg" x="170" y="2997.6">Tp</text>
</svg>
</body></html>
